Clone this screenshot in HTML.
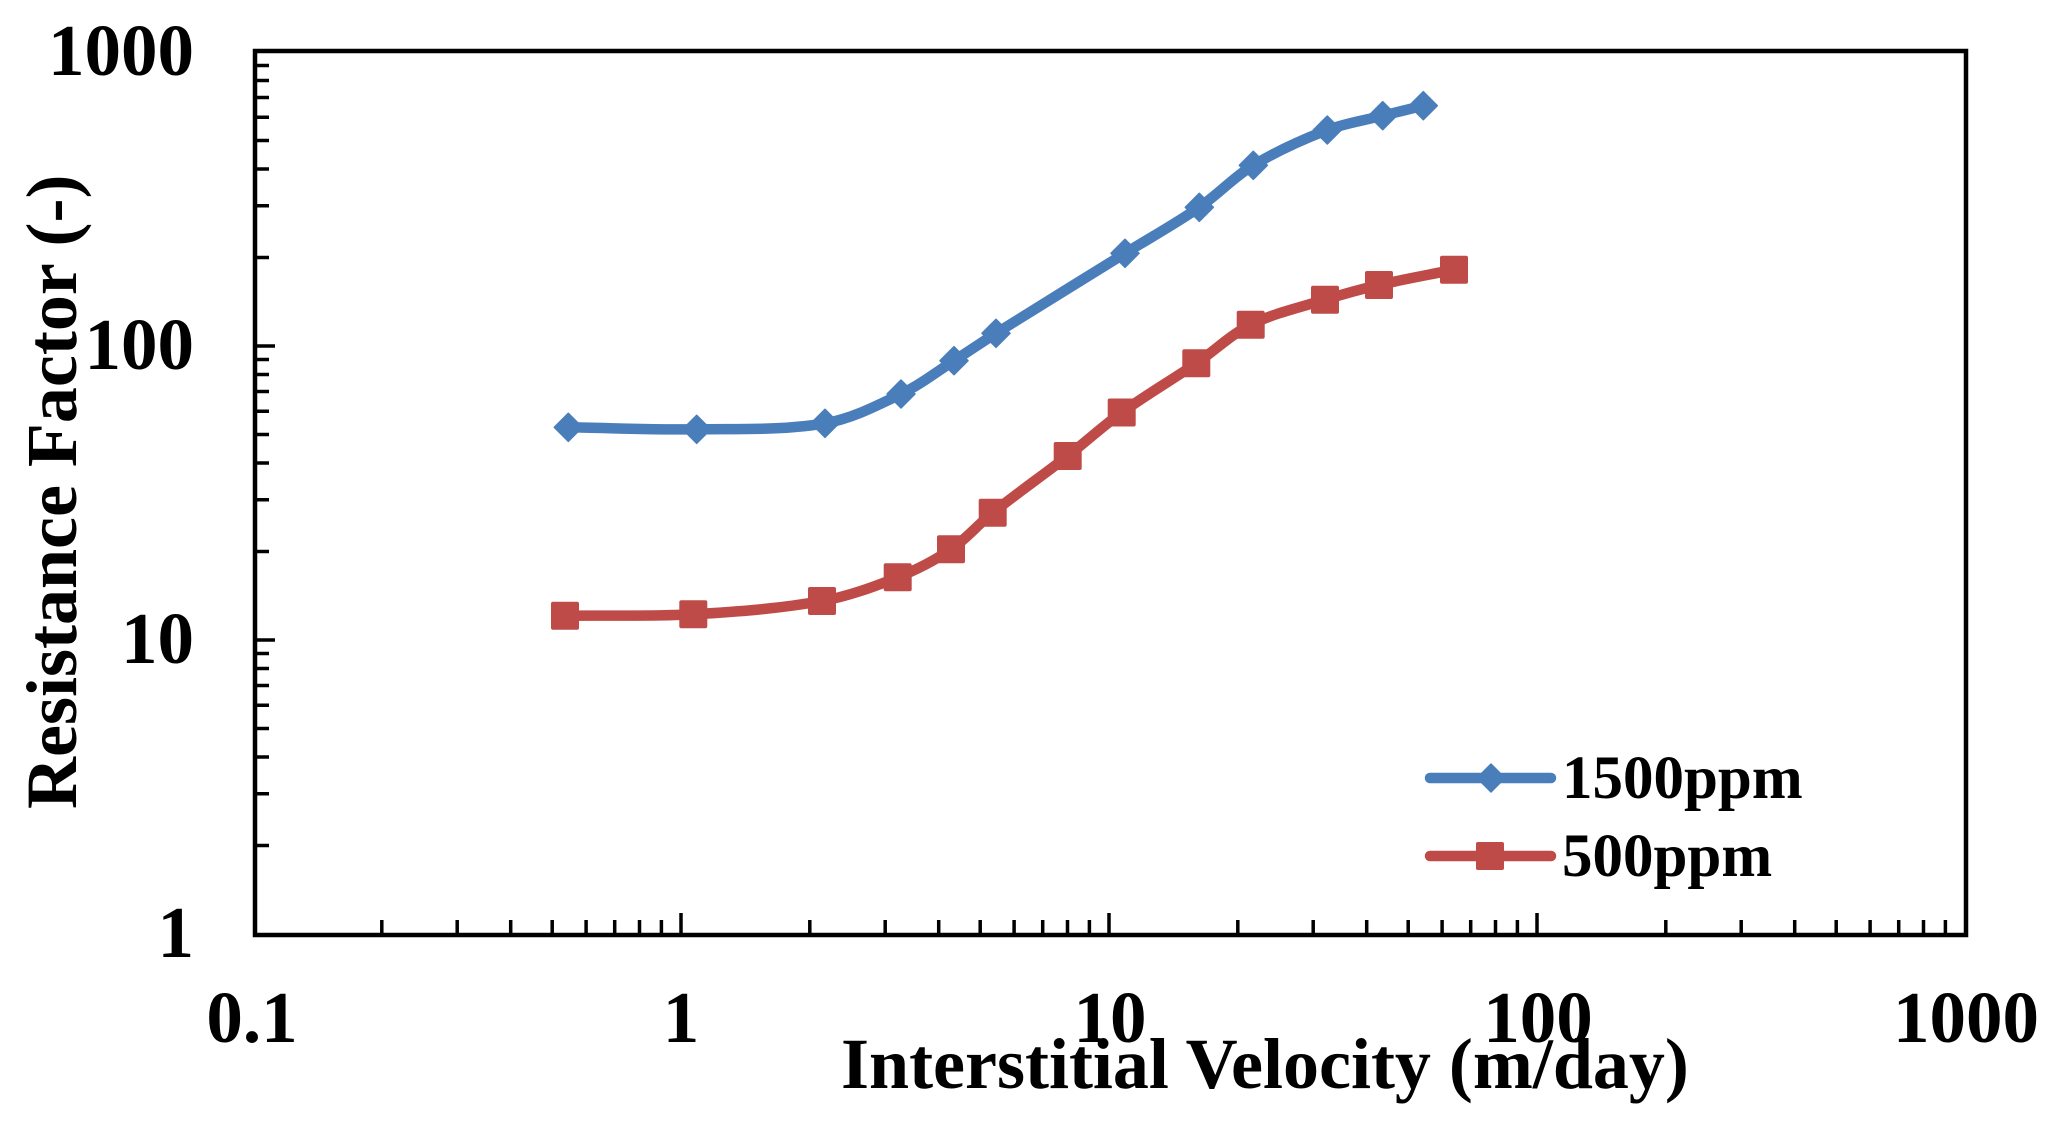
<!DOCTYPE html>
<html>
<head>
<meta charset="utf-8">
<style>
html,body{margin:0;padding:0;background:#fff;}
svg{display:block;}
text{font-family:"Liberation Serif","Times New Roman",serif;font-weight:bold;fill:#000;}
</style>
</head>
<body>
<svg width="2057" height="1122" viewBox="0 0 2057 1122" xmlns="http://www.w3.org/2000/svg">
<rect x="0" y="0" width="2057" height="1122" fill="#fff"/>

<!-- Y minor/major ticks (inside) -->
<g stroke="#000" stroke-width="3.5">
<path d="M253 845.5H269M253 793.7H269M253 757H269M253 728.5H269M253 705.2H269M253 685.5H269M253 668.5H269M253 653.5H269M253 640H275
M253 551.5H269M253 499.7H269M253 463H269M253 434.5H269M253 411.2H269M253 391.5H269M253 374.5H269M253 359.5H269M253 346H275
M253 257.5H269M253 205.7H269M253 169H269M253 140.5H269M253 117.2H269M253 97.5H269M253 80.5H269M253 65.5H269"/>
<!-- X ticks -->
<path d="M381.8 935V920M457.2 935V920M510.7 935V920M552.2 935V920M586.1 935V920M614.7 935V920M639.5 935V920M661.4 935V920M681 935V913
M809.8 935V920M885.2 935V920M938.7 935V920M980.2 935V920M1014.1 935V920M1042.7 935V920M1067.5 935V920M1089.4 935V920M1109 935V913
M1237.8 935V920M1313.2 935V920M1366.7 935V920M1408.2 935V920M1442.1 935V920M1470.7 935V920M1495.5 935V920M1517.4 935V920M1537 935V913
M1665.8 935V920M1741.2 935V920M1794.7 935V920M1836.2 935V920M1870.1 935V920M1898.7 935V920M1923.5 935V920M1945.4 935V920"/>
</g>

<!-- Plot box -->
<rect x="255" y="51" width="1711" height="884" fill="none" stroke="#000" stroke-width="4.5"/>

<!-- Y tick labels -->
<g font-size="73" text-anchor="end">
<text x="194" y="75">1000</text>
<text x="194" y="369">100</text>
<text x="194" y="663">10</text>
<text x="194" y="957">1</text>
</g>
<!-- X tick labels -->
<g font-size="73" text-anchor="middle">
<text x="252" y="1042">0.1</text>
<text x="681" y="1042">1</text>
<text x="1110" y="1042">10</text>
<text x="1538" y="1042">100</text>
<text x="1966" y="1042">1000</text>
</g>

<!-- Axis titles -->
<text x="841" y="1088" font-size="72">Interstitial Velocity (m/day)</text>
<text transform="translate(76,809) rotate(-90)" font-size="72">Resistance Factor (-)</text>

<!-- Blue series 1500ppm -->
<path fill="none" stroke="#4A7EBB" stroke-width="10.5" stroke-linejoin="round" stroke-linecap="round"
d="M568.3 427.3 C611.1 428.0 653.9 430.0 696.7 429.3 C739.5 428.6 782.8 430.6 825 423.3 C851.8 418.7 876.5 405.9 901 394 C919.8 384.9 936.4 372.0 954 360.7 C968.1 351.7 981.9 342.2 996 333.3 C1038.9 306.4 1082.0 280.0 1125 253.3 C1149.7 238.0 1175.3 223.8 1199.3 207.3 C1218.1 194.4 1233.8 177.1 1253.3 165.3 C1276.7 151.2 1301.8 139.8 1327.3 130 C1345.1 123.2 1364.2 120.4 1382.7 115.7 C1396.2 112.3 1409.8 109.0 1423.3 105.7"/>
<g fill="#4A7EBB" stroke="#4A7EBB" stroke-width="1.5" stroke-linejoin="round">
<path d="M568.3 413.3L582.3 427.3L568.3 441.3L554.3 427.3Z"/>
<path d="M696.7 415.3L710.7 429.3L696.7 443.3L682.7 429.3Z"/>
<path d="M825 409.3L839 423.3L825 437.3L811 423.3Z"/>
<path d="M901 380L915 394L901 408L887 394Z"/>
<path d="M954 346.7L968 360.7L954 374.7L940 360.7Z"/>
<path d="M996 319.3L1010 333.3L996 347.3L982 333.3Z"/>
<path d="M1125 239.3L1139 253.3L1125 267.3L1111 253.3Z"/>
<path d="M1199.3 193.3L1213.3 207.3L1199.3 221.3L1185.3 207.3Z"/>
<path d="M1253.3 151.3L1267.3 165.3L1253.3 179.3L1239.3 165.3Z"/>
<path d="M1327.3 116L1341.3 130L1327.3 144L1313.3 130Z"/>
<path d="M1382.7 101.7L1396.7 115.7L1382.7 129.7L1368.7 115.7Z"/>
<path d="M1423.3 91.7L1437.3 105.7L1423.3 119.7L1409.3 105.7Z"/>
</g>

<!-- Red series 500ppm -->
<path fill="none" stroke="#BE4B48" stroke-width="10.5" stroke-linejoin="round" stroke-linecap="round"
d="M565 615.7 C607.8 615.2 650.6 616.7 693.3 614.3 C736.3 611.8 779.6 608.7 822 601 C848.0 596.3 873.2 587.1 897.7 577.3 C916.4 569.8 934.4 560.6 951 549.3 C966.3 538.9 978.2 524.3 992.7 512.7 C1017.1 493.2 1043.0 475.2 1067.7 456 C1085.9 441.8 1103.0 426.0 1121.7 412.5 C1145.9 395.1 1171.6 380.0 1196.3 363.3 C1214.7 350.8 1230.8 334.5 1250.7 324.7 C1274.1 313.1 1300.1 307.4 1325 299.7 C1342.9 294.2 1360.8 289.2 1379 285 C1403.8 279.2 1429.0 274.8 1454 269.7"/>
<g fill="#BE4B48">
<rect x="551" y="601.7" width="28" height="28" rx="2"/>
<rect x="679.3" y="600.3" width="28" height="28" rx="2"/>
<rect x="808" y="587" width="28" height="28" rx="2"/>
<rect x="883.7" y="563.3" width="28" height="28" rx="2"/>
<rect x="937" y="535.3" width="28" height="28" rx="2"/>
<rect x="978.7" y="498.7" width="28" height="28" rx="2"/>
<rect x="1053.7" y="442" width="28" height="28" rx="2"/>
<rect x="1107.7" y="398.5" width="28" height="28" rx="2"/>
<rect x="1182.3" y="349.3" width="28" height="28" rx="2"/>
<rect x="1236.7" y="310.7" width="28" height="28" rx="2"/>
<rect x="1311" y="285.7" width="28" height="28" rx="2"/>
<rect x="1365" y="271" width="28" height="28" rx="2"/>
<rect x="1440" y="255.7" width="28" height="28" rx="2"/>
</g>

<!-- Legend -->
<line x1="1430" y1="778" x2="1551" y2="778" stroke="#4A7EBB" stroke-width="10.5" stroke-linecap="round"/>
<path d="M1491 764L1505 778L1491 792L1477 778Z" fill="#4A7EBB" stroke="#4A7EBB" stroke-width="1.5" stroke-linejoin="round"/>
<text x="1562" y="798" font-size="61">1500ppm</text>
<line x1="1430" y1="856" x2="1551" y2="856" stroke="#BE4B48" stroke-width="10.5" stroke-linecap="round"/>
<rect x="1476" y="842" width="28" height="28" rx="2" fill="#BE4B48"/>
<text x="1562" y="876" font-size="61">500ppm</text>
</svg>
</body>
</html>
